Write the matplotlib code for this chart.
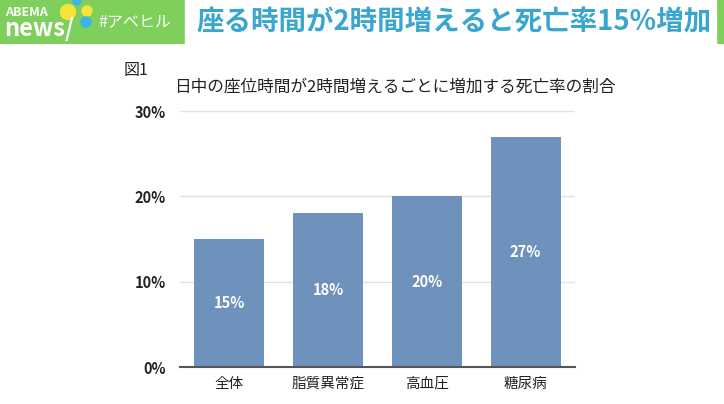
import matplotlib.pyplot as plt
from matplotlib.patches import Rectangle, Circle

plt.rcParams['font.family'] = ['Noto Sans CJK JP', 'DejaVu Sans']

# -------------------------------
# Data
# -------------------------------
categories = ["全体", "脂質異常症", "高血圧", "糖尿病"]
values = [15, 18, 20, 27]
yticks = [0, 10, 20, 30]
ytick_labels = ["0%", "10%", "20%", "30%"]

header_title = "座る時間が2時間増えると死亡率15%増加"
fig_label = "図1"
chart_title = "日中の座位時間が2時間増えるごとに増加する死亡率の割合"

bar_color = "#6f92bc"
green = "#7ecf5c"
blue_text = "#3aa6cf"

fig = plt.figure(figsize=(7.24, 4.04), dpi=100)

# -------------------------------
# Header band
# -------------------------------
hdr = fig.add_axes([0, 1 - 44 / 404, 1, 44 / 404])
hdr.set_xlim(0, 724)
hdr.set_ylim(0, 44)
hdr.axis("off")
hdr.add_patch(Rectangle((0, 0), 724, 44, color=green))
hdr.add_patch(Rectangle((185, 0), 531, 44, color="white"))
hdr.text(5, 32, "ABEMA", color="white", fontsize=9, fontweight="bold",
         va="center", ha="left")
hdr.text(4, 15, "news/", color="white", fontsize=17, fontweight="bold",
         va="center", ha="left")
hdr.add_patch(Circle((68, 32), 7.5, color="#f5e43a"))
hdr.add_patch(Circle((77, 43), 4, color="#3bb3e6"))
hdr.add_patch(Circle((87, 33), 5, color="#f5e43a"))
hdr.add_patch(Circle((86, 22), 5, color="#3bb3e6"))
hdr.text(98, 22, "#アベヒル", color="white", fontsize=11.5,
         va="center", ha="left")
hdr.text(454, 22, header_title, color=blue_text, fontsize=19.8, fontweight="bold",
         va="center", ha="center")

# -------------------------------
# Titles
# -------------------------------
fig.text(124 / 724, 1 - 70 / 404, fig_label, fontsize=11.5, color="#222222",
         va="center", ha="left")
fig.text(395 / 724, 1 - 87 / 404, chart_title, fontsize=12, color="#222222",
         va="center", ha="center")

# -------------------------------
# Bar chart
# -------------------------------
ax = fig.add_axes([180 / 724, 1 - 367 / 404, 395 / 724, (367 - 102.5) / 404])
x = range(len(categories))
ax.bar(x, values, width=0.71, color=bar_color, zorder=2)
for xi, v in zip(x, values):
    ax.text(xi, v / 2, f"{v}%", color="white", fontsize=10.5, fontweight="bold",
            ha="center", va="center", zorder=3)

ax.set_xlim(-0.5, len(categories) - 0.5)
ax.set_ylim(0, 31)
ax.set_yticks(yticks)
ax.set_yticklabels(ytick_labels, fontsize=10.5, fontweight="bold", color="#222222")
ax.set_xticks(list(x))
ax.set_xticklabels(categories, fontsize=10.5, color="#222222")
ax.tick_params(axis="both", length=0)
ax.tick_params(axis="y", pad=10)
ax.tick_params(axis="x", pad=7)
ax.grid(axis="y", color="#e2e2e2", linewidth=1, zorder=0)
for s in ["top", "right", "left"]:
    ax.spines[s].set_visible(False)
ax.spines["bottom"].set_color("#555555")
ax.spines["bottom"].set_linewidth(1.5)
ax.spines["bottom"].set_zorder(4)

fig.savefig("out.png", dpi=100)
